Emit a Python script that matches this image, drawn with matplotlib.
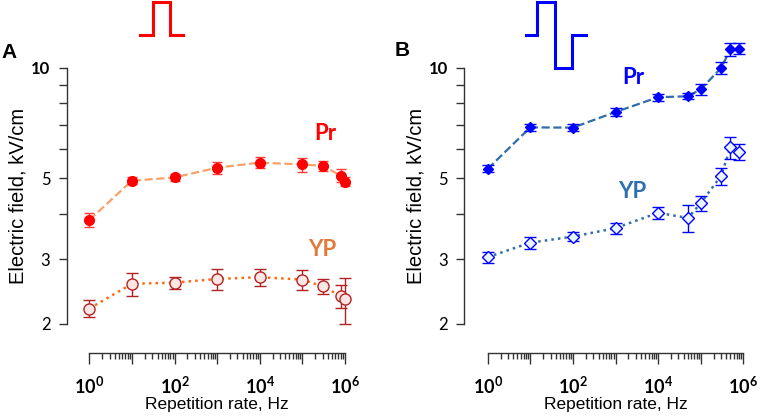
import numpy as np
import matplotlib
matplotlib.use('Agg')
from matplotlib import pyplot as plt
from matplotlib.ticker import FixedLocator, NullFormatter

# ---- data ----
a_pr_x = [1, 10, 100, 1e3, 1e4, 1e5, 3e5, 8e5, 1e6]
a_pr_y = [3.84, 4.92, 5.02, 5.34, 5.51, 5.45, 5.40, 5.08, 4.89]
a_pr_e = [0.17, 0.10, 0.12, 0.20, 0.19, 0.24, 0.16, 0.20, 0.14]

a_yp_x = [1, 10, 100, 1e3, 1e4, 1e5, 3e5, 8e5, 1e6]
a_yp_y = [2.20, 2.57, 2.59, 2.65, 2.68, 2.64, 2.53, 2.38, 2.33]
a_yp_e = [0.12, 0.19, 0.10, 0.18, 0.15, 0.16, 0.12, 0.17, 0.33]

b_pr_x = [1, 10, 100, 1e3, 1e4, 5e4, 1e5, 3e5, 5e5, 8e5]
b_pr_y = [5.30, 6.88, 6.87, 7.58, 8.32, 8.37, 8.74, 10.0, 11.25, 11.3]
b_pr_e = [0.12, 0.15, 0.15, 0.17, 0.18, 0.16, 0.30, 0.38, 0.45, 0.40]

b_yp_x = [1, 10, 100, 1e3, 1e4, 5e4, 1e5, 3e5, 5e5, 8e5]
b_yp_y = [3.04, 3.33, 3.46, 3.65, 4.02, 3.89, 4.27, 5.07, 6.07, 5.90]
b_yp_e = [0.11, 0.13, 0.10, 0.13, 0.15, 0.33, 0.21, 0.27, 0.42, 0.28]

# pulse sketches (in icon units)
a_pulse_x = [0, 0.3, 0.3, 0.7, 0.7, 1.0]
a_pulse_y = [0, 0, 1, 1, 0, 0]
b_pulse_x = [0, 0.19, 0.19, 0.49, 0.49, 0.77, 0.77, 1.0]
b_pulse_y = [0, 0, 1, 1, -1, -1, 0, 0]

W, H = 757, 416
TOP, BOT = 30, 352.7
plt.rcParams['font.family'] = ['Liberation Sans', 'DejaVu Sans']
plt.rcParams['mathtext.fontset'] = 'custom'
plt.rcParams['mathtext.bf'] = 'Lato:bold'
plt.rcParams['mathtext.rm'] = 'Lato'

fig = plt.figure(figsize=(W / 100, H / 100), dpi=100)


def px_axes(l, r, t, b):
    return fig.add_axes([l / W, 1 - b / H, (r - l) / W, (b - t) / H])


def setup(ax, x0px, spine_px, right_px):
    # 42.6 px per decade on x, 365.8 px per decade on y
    ax.set_xscale('log')
    ax.set_yscale('log')
    ax.set_xlim(10 ** ((spine_px - x0px) / 42.6), 10 ** ((right_px - x0px) / 42.6))
    ax.set_ylim(10 ** (1 - (BOT - 68) / 365.8), 10 ** (1 + (68 - TOP) / 365.8))
    for s in ['top', 'right']:
        ax.spines[s].set_visible(False)
    ax.spines['left'].set_bounds(2, 10)
    ax.spines['bottom'].set_bounds(1, 1e6)
    for s in ['left', 'bottom']:
        ax.spines[s].set_color('#333333')
        ax.spines[s].set_linewidth(1.0)
    ax.yaxis.set_major_locator(FixedLocator([2, 3, 5, 10]))
    ax.yaxis.set_minor_locator(FixedLocator([4, 6, 7, 8, 9]))
    ax.yaxis.set_minor_formatter(NullFormatter())
    ax.set_yticklabels(['2', '3', '5', '10'], fontfamily='Lato', fontsize=12)
    ax.get_yticklabels()[3].set_fontweight('bold')
    ax.tick_params(axis='y', which='both', length=6, width=1, color='#333333', pad=6)
    ax.xaxis.set_major_locator(FixedLocator([1, 10, 100, 1e3, 1e4, 1e5, 1e6]))
    minors = [m * 10 ** d for d in range(6) for m in range(2, 10)]
    ax.xaxis.set_minor_locator(FixedLocator(minors))
    ax.xaxis.set_minor_formatter(NullFormatter())
    ax.set_xticklabels([r'$\mathbf{10^{0}}$', '', r'$\mathbf{10^{2}}$', '',
                        r'$\mathbf{10^{4}}$', '', r'$\mathbf{10^{6}}$'], fontsize=13)
    ax.tick_params(axis='x', which='major', length=8, width=1, color='#333333', pad=9)
    ax.tick_params(axis='x', which='minor', length=4, width=1, color='#333333')
    ax.set_xlabel('Repetition rate, Hz', fontsize=12.5)
    ax.set_ylabel('Electric field, kV/cm', fontsize=14.5)
    ax.patch.set_alpha(0)


def place_labels(ax, spine_px, right_px, xcenter_px, ylab_px):
    # ylab_px is the right edge of the rotated y label
    width = right_px - spine_px
    height = BOT - TOP
    ax.xaxis.set_label_coords((xcenter_px - spine_px) / width, -(397 - BOT) / height)
    ax.yaxis.set_label_coords(-(spine_px - ylab_px) / width, (BOT - 196) / height)


# ---------------- panel A ----------------
axA = px_axes(67, 352, TOP, BOT)
setup(axA, 89.3, 67, 352)
axA.plot(a_pr_x, a_pr_y, '--', color='#F8A26A', lw=1.6, zorder=1)
axA.errorbar(a_pr_x, a_pr_y, yerr=a_pr_e, fmt='o', ms=7, color='#FF0000',
             mfc='#FF0000', mec='#FF0000', ecolor='#FF3B3B', elinewidth=1,
             capsize=3.5, capthick=1, zorder=3)
axA.plot(a_yp_x, a_yp_y, ':', color='#FF6A10', lw=1.8, zorder=1)
axA.errorbar(a_yp_x, a_yp_y, yerr=a_yp_e, fmt='o', ms=8, color='#B22222',
             mfc='#FCE6E4', mec='#B22222', mew=1.0, ecolor='#B22222',
             elinewidth=1, capsize=4, capthick=1, zorder=3)
place_labels(axA, 67, 352, 217, 28)

# ---------------- panel B ----------------
axB = px_axes(464.3, 750, TOP, BOT)
setup(axB, 487.7, 464.3, 750)
axB.plot(b_pr_x, b_pr_y, '--', color='#2F6EAA', lw=1.6, zorder=1)
axB.errorbar(b_pr_x, b_pr_y, yerr=b_pr_e, fmt='D', ms=5.5, color='#0000FF',
             mfc='#0000FF', mec='#0000FF', ecolor='#0000FF', elinewidth=1,
             capsize=4.5, capthick=1, zorder=3)
axB.plot(b_yp_x, b_yp_y, ':', color='#2F6EAA', lw=1.8, zorder=1)
axB.errorbar(b_yp_x, b_yp_y, yerr=b_yp_e, fmt='D', ms=6, color='#0000FF',
             mfc='#EAF6FF', mec='#0000FF', mew=1.0, ecolor='#0000FF',
             elinewidth=1, capsize=4.5, capthick=1, zorder=3)
place_labels(axB, 464.3, 750, 615.5, 426)

# series labels
for x, y, s, c in [(325, 133, 'Pr', '#FF0000'), (322, 250, 'YP', '#E07B39'),
                   (633, 77, 'Pr', '#0000FF'), (632, 191, 'YP', '#2F6EAF')]:
    fig.text(x / W, 1 - y / H, s, color=c, fontsize=16, fontweight='bold',
             fontfamily='Lato', ha='center', va='center')

# panel letters
fig.text(1 / W, 1 - 52 / H, 'A', fontsize=15, fontweight='bold', va='center', ha='left')
fig.text(395 / W, 1 - 51 / H, 'B', fontsize=15, fontweight='bold', va='center', ha='left')

# pulse icons
icA = px_axes(140, 183.3, 2.3, 35)
icA.plot(a_pulse_x, a_pulse_y, color='#FF0000', lw=2.2, solid_joinstyle='miter')
icA.set_xlim(0, 1)
icA.set_ylim(0, 1)
icA.axis('off')

icB = px_axes(525.7, 586, 2.3, 68.3)
icB.plot(b_pulse_x, b_pulse_y, color='#0000FF', lw=2.2, solid_joinstyle='miter')
icB.set_xlim(0, 1)
icB.set_ylim(-1, 1)
icB.axis('off')
for ic in (icA, icB):
    for line in ic.get_lines():
        line.set_clip_on(False)

fig.savefig('out.png', dpi=100)
